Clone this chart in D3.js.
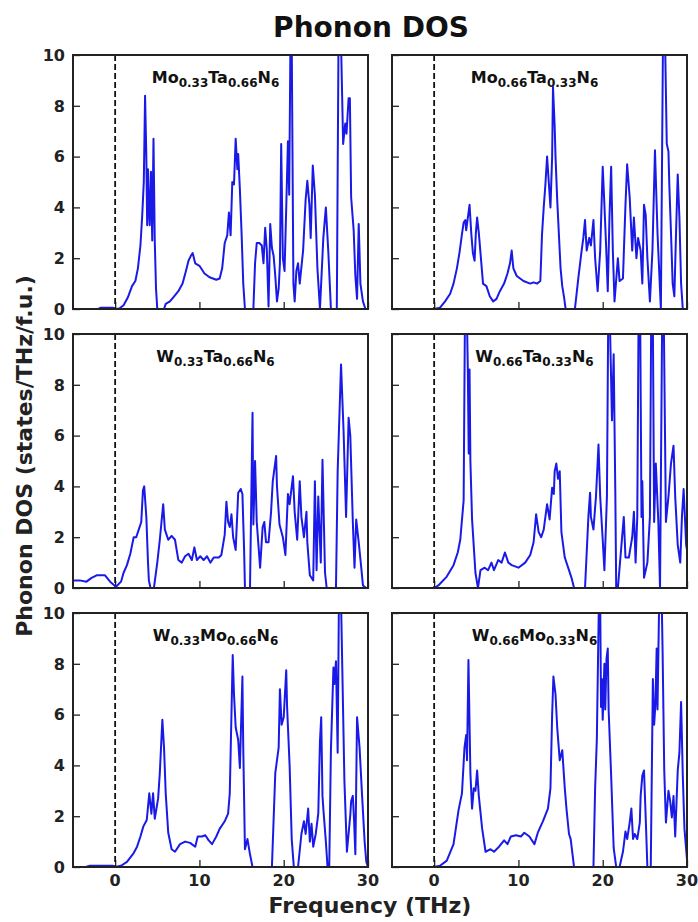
<!DOCTYPE html>
<html>
<head>
<meta charset="utf-8">
<script src="https://cdn.jsdelivr.net/npm/d3@7"></script>
<style>
  body { margin: 0; background: #fff; }
  svg { font-family: "DejaVu Sans", sans-serif; font-weight: bold; }
</style>
</head>
<body>
<div id="container"></div>
<script>
const width = 698;
const height = 922;

// panel labels: [element, subscript] pairs
const labels = [
  [["Mo", "0.33"], ["Ta", "0.66"], ["N", "6"]],
  [["Mo", "0.66"], ["Ta", "0.33"], ["N", "6"]],
  [["W", "0.33"], ["Ta", "0.66"], ["N", "6"]],
  [["W", "0.66"], ["Ta", "0.33"], ["N", "6"]],
  [["W", "0.33"], ["Mo", "0.66"], ["N", "6"]],
  [["W", "0.66"], ["Mo", "0.33"], ["N", "6"]]
];

const xTicks = [0, 10, 20, 30];
const yTicks = [0, 2, 4, 6, 8, 10];

// [frequency THz, DOS]
const moTa33 = [[-5,0],[-2,0],[-1.7,0.05],[-0.3,0.05],[0,0],[0.5,0.02],[1,0.15],[1.5,0.45],[2,0.9],[2.4,1.1],[2.7,1.6],[3.0,2.5],[3.2,3.6],[3.4,5.0],[3.55,8.4],[3.7,6.0],[3.8,3.3],[3.9,5.5],[4.0,4.0],[4.1,3.3],[4.25,5.4],[4.4,2.7],[4.55,6.7],[4.7,2.7],[4.85,0.8],[5.0,0],[5.8,0],[6.0,0.2],[6.5,0.3],[7.0,0.5],[7.5,0.7],[8.0,1.0],[8.4,1.5],[8.7,1.9],[9.0,2.1],[9.2,2.2],[9.5,1.8],[10.0,1.7],[10.6,1.4],[11.2,1.25],[12.0,1.15],[12.4,1.2],[12.7,1.6],[13.0,2.6],[13.3,2.9],[13.5,3.8],[13.7,2.9],[13.9,5.0],[14.1,4.9],[14.3,6.7],[14.5,5.5],[14.6,6.1],[14.8,4.7],[15.0,3.0],[15.2,1.0],[15.4,0],[16.4,0],[16.6,1.8],[16.8,2.6],[17.1,2.6],[17.4,2.5],[17.6,1.8],[17.8,3.2],[18.0,2.3],[18.2,0.1],[18.4,3.35],[18.6,2.4],[18.8,2.1],[19.0,1.3],[19.2,0.3],[19.4,0.8],[19.55,1.8],[19.7,6.5],[19.9,2.0],[20.1,1.5],[20.3,4.0],[20.5,6.6],[20.65,4.5],[20.8,10.5],[20.95,10.5],[21.15,1.0],[21.3,0.3],[21.5,1.5],[21.7,1.8],[21.9,1.0],[22.3,2.3],[22.6,4.3],[22.8,5.05],[23.05,4.1],[23.2,2.8],[23.45,5.65],[23.7,4.5],[24.0,1.6],[24.3,0],[24.7,2.8],[25.0,4.0],[25.3,2.2],[25.6,0],[26.3,0],[26.5,10.5],[26.8,10.5],[27.05,6.5],[27.3,7.3],[27.45,6.9],[27.7,8.3],[27.85,8.3],[28.0,4.4],[28.3,3.1],[28.5,1.3],[28.7,0.4],[28.9,3.35],[29.1,1.0],[29.4,0.3],[29.7,0],[30,0]];

const moTa66 = [[-5,0],[0,0],[0.7,0.05],[1.3,0.3],[1.9,0.6],[2.3,1.0],[2.7,1.6],[3.0,2.2],[3.3,2.95],[3.5,3.4],[3.7,3.5],[3.8,3.1],[4.0,3.6],[4.2,4.1],[4.4,3.0],[4.6,2.2],[4.8,1.9],[4.95,3.0],[5.1,3.6],[5.3,3.0],[5.5,2.2],[5.8,1.0],[6.2,0.9],[6.6,0.5],[7.0,0.3],[7.4,0.4],[7.8,0.7],[8.3,1.0],[8.7,1.4],[9.0,1.8],[9.2,2.3],[9.4,1.6],[9.8,1.3],[10.6,1.1],[11.4,1.0],[11.8,1.05],[12.2,1.0],[12.6,1.1],[12.8,2.95],[13.0,4.0],[13.2,4.9],[13.4,6.0],[13.6,5.0],[13.8,4.0],[14.0,6.0],[14.1,8.75],[14.3,7.2],[14.4,6.0],[14.6,4.3],[15.0,1.6],[15.2,0.9],[15.4,0.5],[15.6,0],[16.7,0],[17.1,1.2],[17.5,2.3],[17.7,2.8],[17.9,3.5],[18.1,2.3],[18.4,2.8],[18.6,2.5],[18.9,3.5],[19.1,2.0],[19.4,0.7],[19.7,2.3],[20.0,5.6],[20.2,4.1],[20.4,2.5],[20.6,0.7],[20.8,3.6],[21.0,5.6],[21.2,2.3],[21.4,0.3],[21.8,2.0],[22.0,1.1],[22.4,1.2],[22.7,4.1],[22.9,5.7],[23.2,4.4],[23.5,2.3],[23.7,3.6],[24.0,2.0],[24.2,2.8],[24.5,2.3],[24.7,1.0],[24.9,4.1],[25.1,3.7],[25.3,2.0],[25.6,0.3],[25.9,2.3],[26.2,6.25],[26.5,3.0],[26.9,0],[27.15,10.5],[27.4,10.5],[27.6,6.5],[27.8,6.2],[27.9,4.9],[28.1,3.0],[28.3,1.0],[28.5,0.5],[28.7,3.0],[28.9,5.3],[29.1,3.6],[29.3,1.0],[29.5,0],[30,0]];

const wTa33 = [[-5,0.3],[-4.2,0.3],[-3.4,0.25],[-2.8,0.4],[-2.2,0.5],[-1.2,0.5],[-0.6,0.25],[0.1,0.05],[0.7,0.25],[1.0,0.6],[1.4,0.9],[1.8,1.35],[2.2,2.0],[2.5,2.0],[2.8,2.3],[3.1,2.6],[3.3,3.85],[3.45,4.0],[3.7,2.8],[3.9,1.0],[4.0,0.3],[4.2,0],[4.6,0],[5.0,1.0],[5.3,1.9],[5.7,3.3],[5.9,2.3],[6.3,1.9],[6.7,2.05],[7.1,1.9],[7.5,1.1],[7.9,1.0],[8.3,1.25],[8.7,1.35],[9.1,1.1],[9.4,1.6],[9.7,1.1],[10.1,1.25],[10.5,1.1],[10.9,1.25],[11.3,1.0],[11.7,1.2],[12.3,1.2],[12.6,1.3],[13.0,2.1],[13.2,3.4],[13.4,2.6],[13.6,2.4],[13.8,2.9],[14.0,2.0],[14.3,1.5],[14.6,3.75],[14.9,3.9],[15.1,3.7],[15.3,1.5],[15.4,0],[16.0,0],[16.3,6.9],[16.4,2.5],[16.6,5.0],[16.8,2.6],[17.2,0.8],[17.5,2.4],[17.7,2.6],[17.9,1.8],[18.2,1.8],[18.5,3.0],[18.7,4.2],[19.1,5.2],[19.2,4.0],[19.5,2.5],[19.9,2.0],[20.2,1.3],[20.5,3.7],[20.7,3.3],[21.1,4.4],[21.3,3.0],[21.6,1.9],[21.9,4.2],[22.1,2.8],[22.4,2.0],[22.7,3.0],[22.8,1.8],[23.1,0.5],[23.5,0.3],[23.7,4.2],[23.9,0.7],[24.1,3.6],[24.4,1.0],[24.6,5.05],[24.9,0.6],[25.1,0],[26.2,0],[26.4,4.6],[26.8,8.8],[27.1,6.2],[27.4,2.8],[27.7,6.7],[27.9,6.0],[28.2,2.6],[28.4,0.8],[28.6,2.7],[28.9,1.8],[29.2,0.8],[29.4,0.1],[29.8,0],[30,0]];

const wTa66 = [[-5,0],[0,0],[0.5,0.1],[1.5,0.45],[2.3,0.9],[2.8,1.4],[3.1,1.9],[3.5,3.45],[3.65,10.5],[3.9,10.5],[4.0,8.5],[4.1,5.3],[4.2,8.6],[4.3,5.0],[4.5,2.7],[4.9,0.6],[5.2,0],[5.5,0.7],[6.0,0.8],[6.4,0.7],[6.8,1.0],[7.1,0.7],[7.6,1.1],[8.0,1.0],[8.4,1.4],[8.8,1.0],[9.2,0.9],[10.0,0.8],[10.8,1.0],[11.4,1.3],[11.8,1.8],[12.1,2.9],[12.4,2.2],[12.7,2.0],[13.0,2.3],[13.4,3.3],[13.7,2.7],[14.0,3.95],[14.2,3.7],[14.3,4.6],[14.5,4.9],[14.7,4.3],[14.9,4.6],[15.1,2.2],[15.5,1.2],[15.9,0.8],[16.3,0.4],[16.6,0],[17.9,0],[18.3,2.8],[18.5,3.75],[18.6,2.8],[18.9,2.3],[19.2,3.6],[19.5,5.65],[19.7,3.6],[20.0,1.9],[20.2,0.7],[20.5,3.6],[20.65,10.5],[20.85,10.5],[21.1,6.6],[21.3,9.2],[21.5,3.6],[21.6,0],[21.8,0],[22.1,1.2],[22.5,2.8],[22.7,1.2],[23.1,1.2],[23.5,2.0],[23.7,3.0],[23.9,1.0],[24.1,2.8],[24.25,10.5],[24.45,10.5],[24.6,2.8],[24.7,4.2],[24.9,0.4],[25.3,1.0],[25.6,2.8],[25.75,10.5],[25.95,10.5],[26.1,2.6],[26.3,4.9],[26.6,2.6],[26.8,0],[27.05,10.5],[27.25,10.5],[27.5,2.6],[27.8,3.6],[28.1,4.9],[28.4,5.6],[28.6,3.6],[28.9,1.7],[29.2,1.0],[29.4,2.8],[29.6,3.9],[29.9,1.7],[30,1.5]];

const wMo33 = [[-5,0],[-3.5,0],[-3,0.05],[-0.3,0.05],[0,0],[0.7,0.05],[1.4,0.2],[2.2,0.55],[2.6,0.8],[3.0,1.2],[3.35,1.6],[3.75,1.85],[4.05,2.9],[4.3,2.1],[4.5,2.9],[4.7,1.9],[5.1,2.7],[5.3,3.7],[5.6,5.8],[5.8,4.7],[6.0,2.9],[6.3,1.35],[6.7,0.7],[7.1,0.6],[7.7,0.9],[8.3,1.0],[8.9,0.95],[9.5,0.8],[9.8,1.2],[10.3,1.2],[10.7,1.25],[11.1,1.05],[11.5,0.9],[12.0,1.2],[12.4,1.5],[13.0,1.8],[13.4,2.1],[13.6,2.9],[13.95,8.35],[14.1,6.8],[14.3,5.5],[14.6,5.0],[14.8,3.9],[15.1,7.5],[15.2,4.7],[15.4,0.7],[15.7,1.1],[16.0,0.5],[16.3,0],[18.6,0],[19.0,3.7],[19.4,4.7],[19.55,7.0],[19.75,5.6],[20.0,5.9],[20.3,7.75],[20.4,6.3],[20.7,4.0],[20.95,1.1],[21.2,0],[21.7,0],[22.1,1.3],[22.4,1.8],[22.6,1.3],[22.9,2.3],[23.1,1.0],[23.3,1.7],[23.5,0.8],[23.8,1.3],[24.1,2.1],[24.3,4.95],[24.45,5.9],[24.6,2.8],[24.7,2.3],[25.0,1.0],[25.2,0],[25.4,0],[25.6,4.6],[25.9,7.85],[26.0,7.2],[26.2,8.1],[26.4,4.5],[26.55,10.5],[26.8,10.5],[27.2,3.4],[27.5,0.6],[27.9,2.05],[28.0,2.6],[28.2,2.8],[28.35,1.8],[28.5,0.5],[28.7,5.9],[29.0,4.7],[29.3,2.8],[29.6,1.0],[29.8,0.2],[30,0]];

const wMo66 = [[-5,0],[0,0],[0.7,0.05],[1.5,0.25],[2.3,0.9],[2.9,2.25],[3.3,2.9],[3.6,4.7],[3.8,5.2],[3.9,4.2],[4.07,8.15],[4.3,3.7],[4.5,2.3],[4.7,3.1],[4.9,3.0],[5.1,3.8],[5.3,2.8],[5.7,1.5],[6.1,0.6],[6.7,0.7],[7.1,0.6],[7.7,0.8],[8.3,1.05],[8.7,0.9],[9.1,1.2],[9.7,1.25],[10.3,1.2],[10.7,1.35],[11.3,1.2],[11.9,0.9],[12.3,1.35],[12.9,1.8],[13.5,2.3],[13.8,3.1],[14.0,6.0],[14.15,7.5],[14.4,6.8],[14.6,5.5],[14.9,4.2],[15.2,4.6],[15.5,3.1],[15.7,2.3],[16.0,1.3],[16.2,1.1],[16.6,0],[18.9,0],[19.1,3.1],[19.3,5.0],[19.4,7.2],[19.55,10.5],[19.7,10.5],[19.8,6.3],[19.9,7.4],[20.0,5.8],[20.2,8.0],[20.3,6.2],[20.45,8.2],[20.6,8.6],[20.7,6.2],[21.0,3.6],[21.3,0.75],[21.6,0],[22.0,0],[22.4,0.6],[22.7,1.4],[22.9,1.1],[23.2,1.75],[23.4,2.3],[23.6,1.1],[23.8,1.3],[24.1,1.1],[24.4,1.75],[24.5,2.8],[24.7,3.6],[24.9,3.8],[25.1,1.95],[25.3,0],[25.7,0],[25.95,7.4],[26.1,5.6],[26.25,6.4],[26.4,8.6],[26.5,6.2],[26.7,10.5],[27.0,10.5],[27.1,8.6],[27.3,3.8],[27.5,1.75],[27.8,3.0],[28.0,2.6],[28.2,1.95],[28.4,2.8],[28.6,1.2],[28.9,3.8],[29.1,4.5],[29.3,6.5],[29.5,3.6],[29.7,1.5],[30,0.3]];

const series = [moTa33, moTa66, wTa33, wTa66, wMo33, wMo66];

const colLeft = [73, 392];
const rowTop = [55, 334, 613];
const pw = 295;
const ph = 254;

const svg = d3.select("#container")
  .append("svg")
  .attr("width", width)
  .attr("height", height);

const x = d3.scaleLinear().domain([-5, 30]).range([0, pw]);
const y = d3.scaleLinear().domain([0, 10]).range([ph, 0]);

const line = d3.line()
  .x(d => x(d[0]))
  .y(d => y(d[1]));

svg.append("defs").append("clipPath")
  .attr("id", "clip")
  .append("rect")
  .attr("width", pw)
  .attr("height", ph);

series.forEach((data, i) => {
  const col = i % 2;
  const row = Math.floor(i / 2);
  const g = svg.append("g")
    .attr("transform", `translate(${colLeft[col]},${rowTop[row]})`);

  // ticks point inward
  const yAxis = d3.axisRight(y).tickValues(yTicks).tickSize(7).tickFormat("");
  g.append("g").call(yAxis).call(a => a.select(".domain").remove())
    .selectAll("line").attr("stroke", "#222").attr("stroke-width", 1.3);

  const xAxis = d3.axisTop(x).tickValues(xTicks).tickSize(7).tickFormat("");
  g.append("g").attr("transform", `translate(0,${ph})`).call(xAxis)
    .call(a => a.select(".domain").remove())
    .selectAll("line").attr("stroke", "#222").attr("stroke-width", 1.3);

  if (col === 0) {
    g.selectAll(".ylab")
      .data(yTicks)
      .enter()
      .append("text")
      .attr("x", -8)
      .attr("y", d => y(d))
      .attr("dy", "0.36em")
      .attr("text-anchor", "end")
      .attr("font-size", 16)
      .attr("fill", "#222")
      .text(d => d);
  }

  if (row === 2) {
    g.selectAll(".xlab")
      .data(xTicks)
      .enter()
      .append("text")
      .attr("x", d => x(d))
      .attr("y", ph + 19)
      .attr("text-anchor", "middle")
      .attr("font-size", 16)
      .attr("fill", "#222")
      .text(d => d);
  }

  g.append("line")
    .attr("x1", x(0))
    .attr("x2", x(0))
    .attr("y1", 0)
    .attr("y2", ph)
    .attr("stroke", "#111")
    .attr("stroke-width", 1.8)
    .attr("stroke-dasharray", "6,3");

  g.append("path")
    .datum(data)
    .attr("clip-path", "url(#clip)")
    .attr("fill", "none")
    .attr("stroke", "#1a1ae8")
    .attr("stroke-width", 2)
    .attr("stroke-linejoin", "round")
    .attr("d", line);

  const label = g.append("text")
    .attr("x", pw / 2 - 5)
    .attr("y", 28)
    .attr("text-anchor", "middle")
    .attr("font-size", 16)
    .attr("fill", "#111");
  labels[i].forEach(([el, sub], k) => {
    label.append("tspan").attr("dy", k === 0 ? 0 : -4).text(el);
    label.append("tspan").attr("font-size", 12).attr("dy", 4).text(sub);
  });

  g.append("rect")
    .attr("width", pw)
    .attr("height", ph)
    .attr("fill", "none")
    .attr("stroke", "#222")
    .attr("stroke-width", 2);
});

svg.append("text")
  .attr("x", 371)
  .attr("y", 37)
  .attr("text-anchor", "middle")
  .attr("font-size", 28)
  .attr("fill", "#111")
  .text("Phonon DOS");

svg.append("text")
  .attr("x", 370)
  .attr("y", 913)
  .attr("text-anchor", "middle")
  .attr("font-size", 22)
  .attr("fill", "#222")
  .text("Frequency (THz)");

svg.append("text")
  .attr("transform", "translate(32,456) rotate(-90)")
  .attr("text-anchor", "middle")
  .attr("font-size", 22)
  .attr("fill", "#222")
  .text("Phonon DOS (states/THz/f.u.)");
</script>
</body>
</html>
